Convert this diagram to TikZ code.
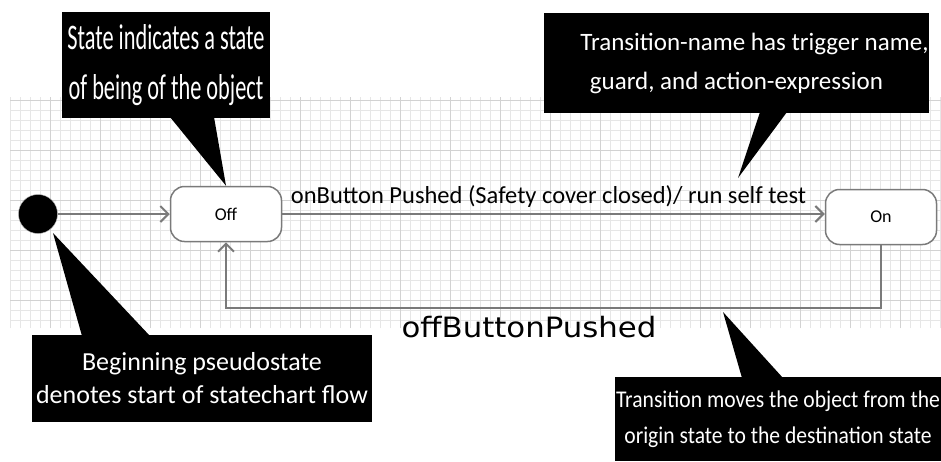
\documentclass[tikz,border=0pt]{standalone}
\usepackage{fontspec}
\setmainfont{Carlito}
\newfontfamily\condfont[FakeStretch=0.62]{Carlito}
\newfontfamily\semifont[FakeStretch=0.9]{Carlito}
\newfontfamily\dvfont[FakeStretch=1.1]{DejaVu Sans}
\usetikzlibrary{arrows.meta}
\definecolor{colg}{HTML}{7A7A7A}
\definecolor{colgrid}{HTML}{E6E6E6}
\definecolor{colgridb}{HTML}{D2D2D2}

\begin{document}
\begin{tikzpicture}[x=1pt, y=-1pt]
    \tikzstyle{stb} += [draw=colg, line width=1.5pt, rounded corners=14pt, fill=white, minimum width=111pt, minimum height=55pt, font=\fontsize{18}{20}\selectfont];
    \tikzstyle{cob} += [fill=black, text=white, inner sep=0pt, align=center];
    \tikzstyle{trn} += [draw=colg, line width=2pt, -{Straight Barb[length=8pt, width=16pt]}];
    \useasboundingbox (0,0) rectangle (941,461);
    \fill[white] (0,0) rectangle (941,461);
    \draw[colgrid, line width=0.6pt, step=10pt] (10,97) grid (941,328);
    \draw[colgridb, line width=0.8pt, step=50pt] (10,97) grid (941,328);

    \node (ini) at (38,214) [circle, fill=black, draw=colg!60, minimum size=39pt, inner sep=0pt]{};
    \node (off) at (226,214) [stb]{Off};
    \node (on) at (881,217) [stb]{On};
    \coordinate (rb) at (881,308);

    \begin{scope}
      \draw[trn] (ini) -- (off);
      \draw[trn] (off.east) -- (on.west |- off.east)
        node[midway, above=2pt, xshift=-5pt, font=\fontsize{24.5}{28}\selectfont]{onButton Pushed (Safety cover closed)/ run self test};
      \draw[trn] (on.south) -- (rb) -| (off.south);
    \end{scope}
    \node (lbl) at (529,327) [font=\dvfont\fontsize{28}{32}\selectfont]{offButtonPushed};

    % callouts
    \node (c_1) at (166,65) [cob, minimum width=208pt, minimum height=106pt, font=\condfont\fontsize{36}{50}\selectfont]{State indicates a state\\of being of the object};
    \node (c_2) at (736.5,63) [cob, minimum width=383pt, minimum height=100pt, font=\fontsize{25}{39}\selectfont]{\hspace*{36pt}Transition-name has trigger name,\\guard, and action-expression};
    \node (c_3) at (202,378.5) [cob, minimum width=340pt, minimum height=87pt, font=\fontsize{26}{33}\selectfont]{Beginning pseudostate\\denotes start of statechart flow};
    \node (c_4) at (778,419) [cob, minimum width=326pt, minimum height=84pt, font=\semifont\fontsize{24}{36}\selectfont]{Transition moves the object from the\\origin state to the destination state};
    \coordinate (t_2) at (738,178);
    \coordinate (t_3) at (53,233);
    \coordinate (t_4) at (723,312);
    \fill (170,117) -- (off.north) -- (214,117) -- cycle;
    \fill (760,112) -- (t_2) -- (787,112) -- cycle;
    \fill (82,336) -- (t_3) -- (150,336) -- cycle;
    \fill (742,378) -- (t_4) -- (783,378) -- cycle;
\end{tikzpicture}
\end{document}
